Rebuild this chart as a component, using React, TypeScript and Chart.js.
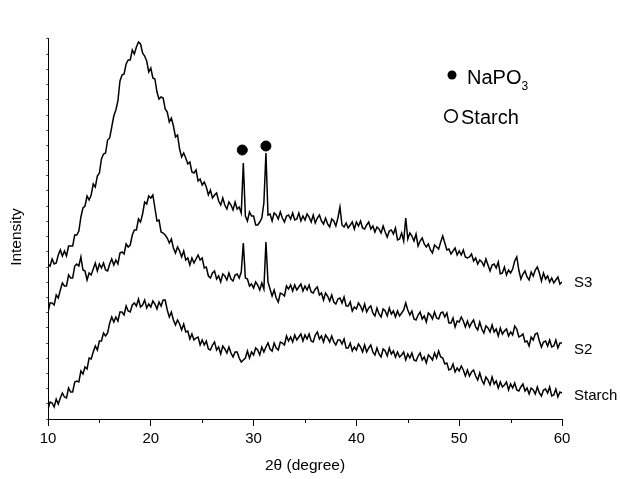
import React, { useEffect, useRef } from 'react';
import { Chart, registerables } from 'chart.js';
Chart.register(...registerables);

// 2θ grid: first angle and step (degrees)
const X_START = 10;
const X_STEP = 0.2;
const X_TICKS = [10, 20, 30, 40, 50, 60];
const MINOR_TICKS = [15, 25, 35, 45, 55];

// Intensities (arbitrary units), one value per 0.2°
const S3 = [
  155,153,160,155,156, 164,169,163,168,163, 173,173,173,184,184, 188,202,211,213,223,
  219,224,235,232,243, 246,260,265,266,279, 281,292,303,309,318, 338,344,345,355,359,
  359,369,365,372,377, 375,366,363,358,347, 351,341,340,327,320, 322,321,310,307,297,
  301,293,282,284,270, 262,266,261,255,257, 247,246,249,238,240, 234,237,232,224,229,
  221,224,226,218,214, 221,214,210,217,214, 209,217,210,212,206, 256,203,198,207,203,
  203,194,194,197,201, 216,266,204,205,198, 206,204,200,207,201, 197,203,204,200,206,
  199,200,206,198,203, 199,205,202,197,204, 196,201,204,198,195, 201,195,192,200,198,
  193,201,212,194,192, 196,191,194,197,190, 197,193,198,191,190, 194,197,190,193,187,
  192,190,186,193,187, 182,188,189,185,191, 179,180,186,178,201, 180,186,183,178,185,
  173,178,181,175,172, 175,169,166,174,172, 170,177,183,176,169, 170,165,168,171,164,
  168,164,169,162,161, 162,165,158,161,155, 159,157,153,160,154, 148,154,155,151,157,
  145,146,152,144,149, 146,150,158,162,149, 140,145,148,142,139, 147,143,149,152,146,
  138,146,140,143,137, 141,136,139,142,135, 137
];

const S2 = [
  107,116,116,114,124, 121,129,136,133,133, 144,141,141,153,155, 153,162,149,148,139,
  146,144,150,156,148, 155,151,156,149,148, 155,160,154,159,155, 166,167,165,175,172,
  174,184,189,189,200, 197,205,217,215,223, 221,224,211,198,199, 187,186,184,181,176,
  180,171,166,172,168, 162,168,159,161,154, 161,156,160,164,159, 161,151,152,143,141,
  146,148,140,143,137, 145,143,139,146,140, 138,144,145,141,147, 176,141,140,133,135,
  131,137,134,129,136, 130,177,137,130,123, 129,121,117,126,125, 123,133,130,134,128,
  134,129,132,135,128, 133,129,134,127,126, 130,132,124,126,119, 126,123,118,124,117,
  115,120,121,116,122, 113,113,117,108,112, 110,116,113,108,115, 107,111,113,106,103,
  111,105,102,110,108, 103,111,105,108,102, 108,103,106,109,116, 109,104,108,100,99,
  104,107,100,103,97, 106,104,100,107,101, 100,106,107,102,106, 96,96,101,92,98,
  97,102,98,92,98, 92,96,99,92,89, 97,90,86,93,91, 87,94,87,90,83,
  91,85,88,90,83, 87,84,93,90,82, 83,85,77,78,73, 82,79,85,86,78,
  72,77,78,73,79, 72,73,79,71,76, 76
];

const STARCH = [
  10,17,16,12,20, 15,21,26,22,21, 31,27,27,37,38, 37,48,45,52,50,
  61,60,67,73,69, 78,78,86,83,86, 96,102,97,102,98, 107,107,104,113,108,
  107,114,116,113,120, 112,114,119,111,115, 112,118,115,110,117, 113,119,119,109,102,
  107,99,94,99,95, 89,95,87,88,80, 85,79,81,82,74, 79,74,78,70,69,
  74,77,69,72,65, 73,70,66,72,66, 62,67,67,61,57, 59,61,68,61,67,
  64,71,69,64,72, 67,72,76,70,68, 76,71,69,77,76, 74,83,78,82,77,
  84,79,82,85,78, 84,80,85,78,77, 84,87,80,83,77, 84,81,77,83,77,
  74,79,79,75,80, 71,71,76,68,72, 69,75,72,67,74, 67,71,74,67,64,
  71,65,62,70,68, 63,71,65,68,62, 67,62,64,67,59, 65,61,66,59,58,
  63,66,59,62,56, 64,62,59,66,61, 68,62,61,55,56, 49,50,55,47,51,
  48,53,49,43,49, 43,47,49,43,39, 46,39,35,42,39, 34,42,35,38,31,
  37,32,34,37,29, 35,31,36,29,28, 32,35,28,31,25, 31,29,25,32,26,
  23,29,30,26,32, 23,24,30,22,27, 26
];

const SERIES_LABELS = ['S3', 'S2', 'Starch'];

// Phase markers (2θ, intensity units)
const NAPO3_MARKERS = [{ x: 28.9, y: 269 }, { x: 31.2, y: 273 }];
const STARCH_MARKERS = [{ x: 18.95, y: 401 }];

const FONT = '"Liberation Sans", Arial, sans-serif';

export default function App() {
  const ref = useRef<HTMLCanvasElement>(null);

  useEffect(() => {
    if (!ref.current) return;
    const toPts = (arr: number[]) => arr.map((v, i) => ({ x: X_START + i * X_STEP, y: v }));

    const textPlugin = {
      id: 'texts',
      afterDraw(chart: any) {
        const ctx = chart.ctx as CanvasRenderingContext2D;
        const xs = chart.scales.x;
        ctx.save();
        ctx.strokeStyle = '#000';
        ctx.lineWidth = 1;
        MINOR_TICKS.forEach((v) => {
          const px = Math.round(xs.getPixelForValue(v)) + 0.5;
          ctx.beginPath();
          ctx.moveTo(px, xs.top);
          ctx.lineTo(px, xs.top + 4);
          ctx.stroke();
        });
        ctx.fillStyle = '#000';
        ctx.font = `15.5px ${FONT}`;
        ctx.textAlign = 'center';
        ctx.textBaseline = 'middle';
        ctx.fillText('2θ (degree)', (xs.left + xs.right) / 2, 466);
        ctx.save();
        ctx.translate(17, 237);
        ctx.rotate(-Math.PI / 2);
        ctx.fillText('Intensity', 0, 0);
        ctx.restore();

        // series labels at right
        ctx.textAlign = 'left';
        ctx.font = `15px ${FONT}`;
        const labelY = [283, 350, 396];
        SERIES_LABELS.forEach((t, i) => ctx.fillText(t, 574, labelY[i]));

        // legend
        ctx.beginPath();
        ctx.arc(452, 75, 4.5, 0, Math.PI * 2);
        ctx.fill();
        ctx.font = `20px ${FONT}`;
        ctx.textBaseline = 'alphabetic';
        ctx.fillText('NaPO', 467, 84);
        const w = ctx.measureText('NaPO').width;
        ctx.font = `12px ${FONT}`;
        ctx.fillText('3', 467 + w, 90);
        ctx.beginPath();
        ctx.lineWidth = 1.6;
        ctx.arc(451, 116, 6.3, 0, Math.PI * 2);
        ctx.stroke();
        ctx.font = `20px ${FONT}`;
        ctx.fillText('Starch', 461, 124);
        ctx.restore();
      },
    };

    const lineDs = (data: number[]) => ({
      data: toPts(data),
      borderColor: '#000',
      borderWidth: 1.5,
      pointRadius: 0,
      tension: 0,
      fill: false,
    });

    const chart = new Chart(ref.current, {
      type: 'line',
      data: {
        datasets: [
          lineDs(S3),
          lineDs(S2),
          lineDs(STARCH),
          {
            data: NAPO3_MARKERS,
            showLine: false,
            pointRadius: 5,
            pointBackgroundColor: '#000',
            pointBorderColor: '#000',
            borderColor: '#000',
            clip: false,
          } as any,
          {
            data: STARCH_MARKERS,
            showLine: false,
            pointRadius: 6.5,
            pointBackgroundColor: 'rgba(0,0,0,0)',
            pointBorderColor: '#000',
            pointBorderWidth: 1.8,
            borderColor: '#000',
            clip: false,
          } as any,
        ],
      },
      options: {
        animation: false,
        responsive: false,
        layout: { padding: { left: 0, right: 58, top: 38, bottom: 0 } },
        plugins: { legend: { display: false }, tooltip: { enabled: false } },
        events: [],
        scales: {
          x: {
            type: 'linear',
            min: 10,
            max: 60,
            afterBuildTicks: (s: any) => {
              s.ticks = X_TICKS.map((v) => ({ value: v }));
            },
            ticks: { font: { family: FONT, size: 15 }, color: '#000', padding: 4, maxRotation: 0, autoSkip: false },
            grid: { drawOnChartArea: false, tickLength: 7, color: '#000' },
            border: { color: '#000', width: 1 },
            afterFit: (s: any) => {
              s.height = 60;
            },
          },
          y: {
            type: 'linear',
            min: 0,
            max: 381,
            ticks: { display: false, stepSize: 15.2 },
            grid: { drawOnChartArea: false, tickLength: 2, color: '#555' },
            border: { color: '#000', width: 1 },
            afterFit: (s: any) => {
              s.width = 48;
            },
          },
        },
      },
      plugins: [textPlugin],
    });
    return () => chart.destroy();
  }, []);

  return (
    <div style={{ position: 'absolute', left: 0, top: 0, width: 620, height: 479, background: '#fff' }}>
      <canvas ref={ref} width={620} height={479} />
    </div>
  );
}
